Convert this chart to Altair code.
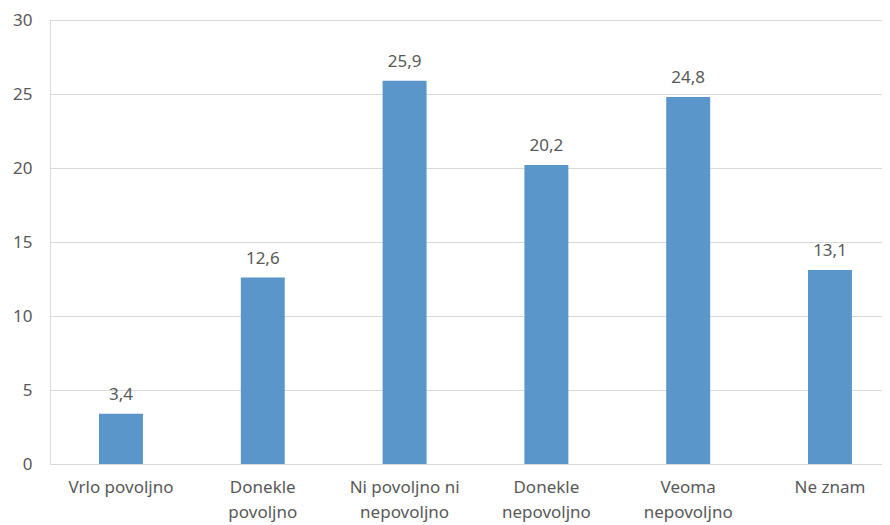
import altair as alt
import pandas as pd

categories = ["Vrlo povoljno", "Donekle povoljno", "Ni povoljno ni nepovoljno",
              "Donekle nepovoljno", "Veoma nepovoljno", "Ne znam"]
label_lines = [["Vrlo povoljno"], ["Donekle", "povoljno"], ["Ni povoljno ni", "nepovoljno"],
               ["Donekle", "nepovoljno"], ["Veoma", "nepovoljno"], ["Ne znam"]]
values = [3.4, 12.6, 25.9, 20.2, 24.8, 13.1]
value_labels = ["3,4", "12,6", "25,9", "20,2", "24,8", "13,1"]

df = pd.DataFrame({"cat": categories, "val": values, "lbl": value_labels})

label_expr = "{" + ",".join(
    '"%s": [%s]' % (c, ",".join('"%s"' % s for s in ls)) for c, ls in zip(categories, label_lines)
) + "}[datum.value]"

FONT = "Noto Sans"
TXT = "#595959"
FS = 17

x = alt.X("cat:N", sort=categories, title=None,
          scale=alt.Scale(paddingInner=0.69, paddingOuter=0.2787, align=0.62),
          axis=alt.Axis(labelExpr=label_expr, labelAngle=0, labelFontSize=FS,
                        labelColor=TXT, labelFont=FONT, labelPadding=15,
                        labelLineHeight=25, ticks=False, domain=True,
                        domainColor="#D9D9D9", domainWidth=1, grid=False,
                        labelBaseline="top"))
y = alt.Y("val:Q", title=None,
          scale=alt.Scale(domain=[0, 30], nice=False),
          axis=alt.Axis(values=[0, 5, 10, 15, 20, 25, 30], labelFontSize=FS,
                        labelColor=TXT, labelFont=FONT, ticks=False, domain=False,
                        gridColor="#D9D9D9", gridWidth=1, labelPadding=18))

bars = alt.Chart(df).mark_bar(color="#5B96CA").encode(x=x, y=y)
texts = alt.Chart(df).mark_text(font=FONT, fontSize=FS, color=TXT, dy=-14,
                                baseline="alphabetic").encode(
    x=alt.X("cat:N", sort=categories), y="val:Q", text="lbl:N")

chart = alt.layer(bars, texts).properties(
    width=832, height=444,
    autosize=alt.AutoSizeParams(type="none"),
    padding={"left": 42, "top": 12, "right": 0, "bottom": 61},
).configure_view(stroke=None).configure(background="white")

chart.save("out.html", embed_options={"renderer": "svg", "actions": False})
